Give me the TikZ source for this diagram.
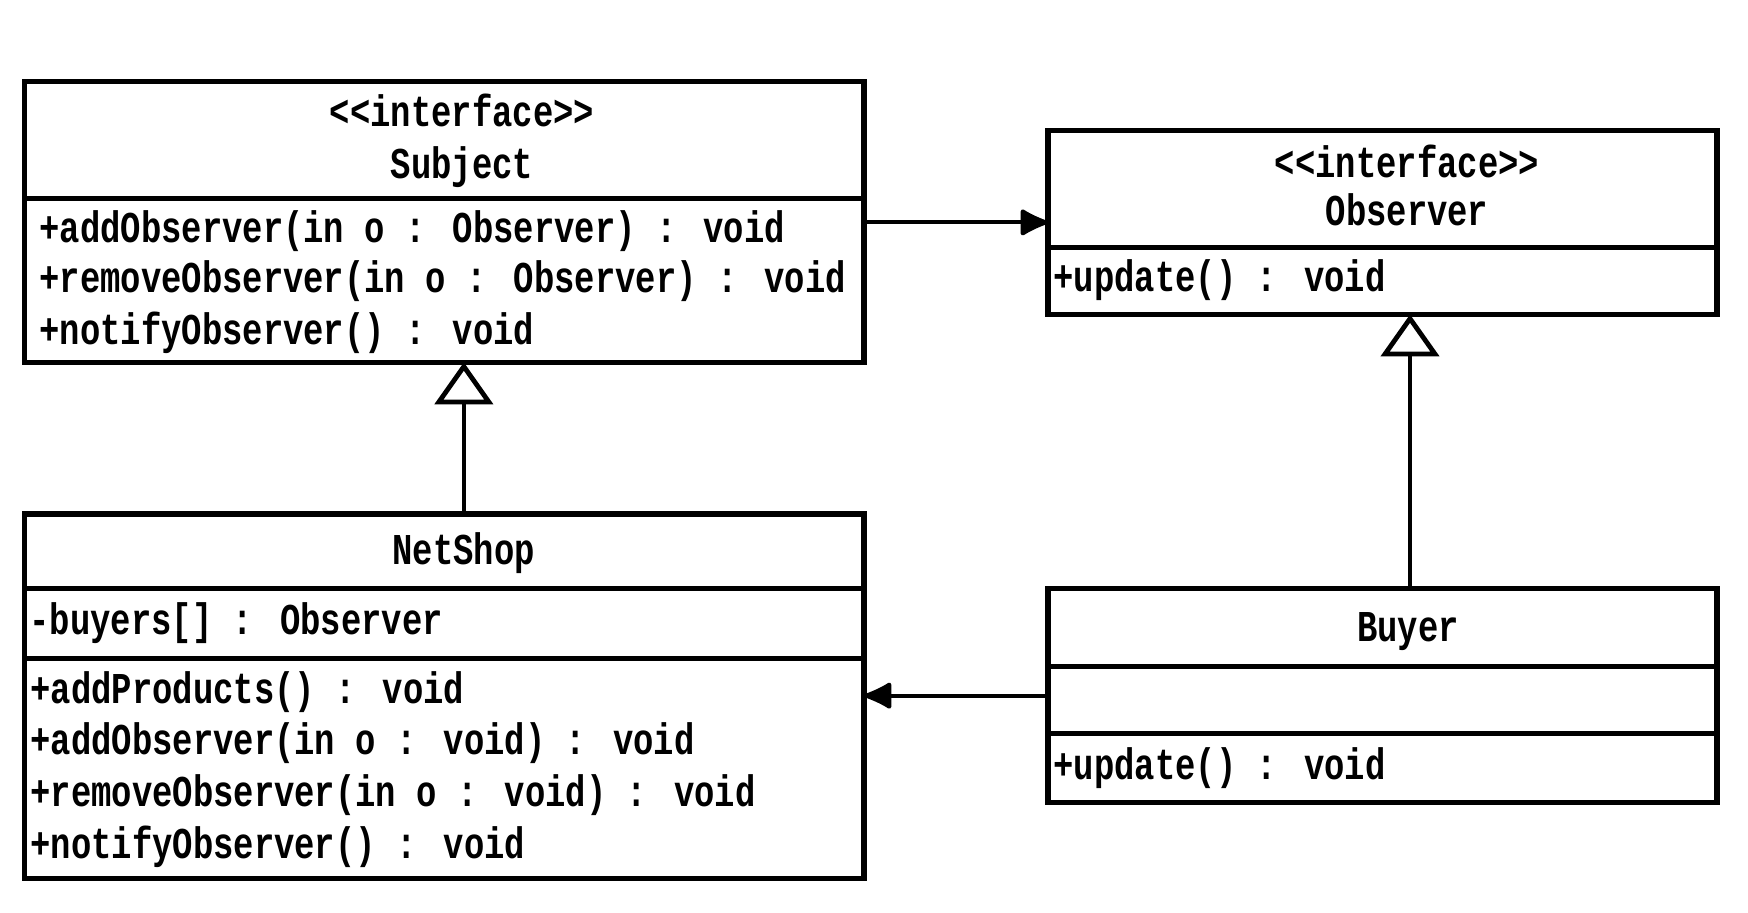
\documentclass[tikz,border=0pt]{standalone}
\usepackage{fontspec}
\newfontfamily\umlfont{Liberation Mono}[FakeStretch=0.77]
\usetikzlibrary{arrows.meta}
\begin{document}
\begin{tikzpicture}[x=0.5pt,y=-0.5pt,
  cls/.style={draw, rectangle, line width=2.6pt, inner sep=0pt, outer sep=0pt},
  sepl/.style={line width=2.6pt},
  txt/.style={font=\umlfont\bfseries\fontsize{22}{26}\selectfont, inner sep=0pt, text height=15pt, text depth=4pt},
  mem/.style={txt, anchor=west},
  gen/.style={line width=2pt, -{Triangle[open, length=21pt, width=29pt, fill=white, line width=2.4pt]}},
  assoc/.style={line width=2pt, -{Latex[length=16pt, width=15pt, round]}}
]
\useasboundingbox[fill=white] (0,0) rectangle (1748,912);

% class boxes
\node[cls, minimum width=419.75pt, minimum height=140.45pt] (subject) at (444.25,221.85) {};
\node[cls, minimum width=334.5pt, minimum height=92pt] (observer) at (1382.5,222.4) {};
\node[cls, minimum width=419.75pt, minimum height=182.25pt] (netshop) at (444.25,696.25) {};
\node[cls, minimum width=334.5pt, minimum height=107.05pt] (buyer) at (1382.5,695.65) {};

% separators
\draw[sepl] (subject.west |- 0,198.4) -- (subject.east |- 0,198.4);
\draw[sepl] (observer.west |- 0,247.5) -- (observer.east |- 0,247.5);
\draw[sepl] (netshop.west |- 0,588.6) -- (netshop.east |- 0,588.6);
\draw[sepl] (netshop.west |- 0,658.8) -- (netshop.east |- 0,658.8);
\draw[sepl] (buyer.west |- 0,666.7) -- (buyer.east |- 0,666.7);
\draw[sepl] (buyer.west |- 0,733.5) -- (buyer.east |- 0,733.5);

% Subject
\node[txt] (sst) at (462,115) {<{}<interface>{}>};
\node[txt] (sname) at (462,167) {Subject};
\node[mem] (sm1) at (39,231) {+addObserver(in o : Observer) : void};
\node[mem] (sm2) at (39,281) {+removeObserver(in o : Observer) : void};
\node[mem] (sm3) at (39,333) {+notifyObserver() : void};

% Observer
\node[txt] (ost) at (1407,166) {<{}<interface>{}>};
\node[txt] (oname) at (1407,214) {Observer};
\node[mem] (om1) at (1053,280) {+update() : void};

% NetShop
\node[txt] (nname) at (463.8,553) {NetShop};
\node[mem] (na1) at (29,623) {-buyers[] : Observer};
\node[mem] (nm1) at (30,692) {+addProducts() : void};
\node[mem] (nm2) at (30,743.5) {+addObserver(in o : void) : void};
\node[mem] (nm3) at (30,795) {+removeObserver(in o : void) : void};
\node[mem] (nm4) at (30,847) {+notifyObserver() : void};

% Buyer
\node[txt] (bname) at (1408,630) {Buyer};
\node[mem] (bm1) at (1053,768) {+update() : void};

% connectors
\draw[assoc] (subject.east |- observer.west) -- (observer.west);
\draw[assoc] (buyer.west) -- (buyer.west -| netshop.east);
\draw[gen] ([xshift=9.8pt]netshop.north) -- ([xshift=9.8pt]subject.south);
\draw[gen] ([xshift=13.75pt]buyer.north) -- ([xshift=13.75pt]observer.south);
\end{tikzpicture}
\end{document}
